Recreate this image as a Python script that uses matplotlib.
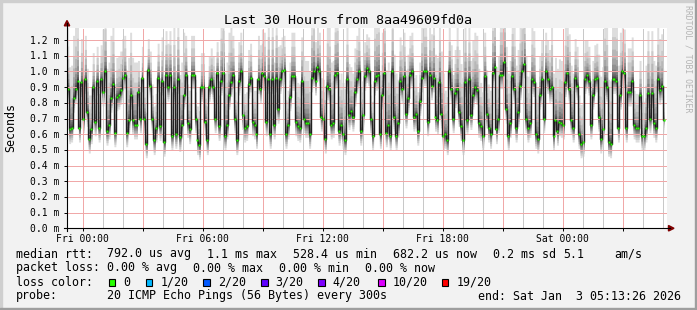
import numpy as np
import pandas as pd
import matplotlib
matplotlib.use("Agg")
import matplotlib.pyplot as plt
import matplotlib.dates as mdates
import matplotlib.transforms as mtransforms
from matplotlib.lines import Line2D
from matplotlib.patches import Rectangle, Polygon
from datetime import datetime, timedelta

# median rtt in ms from left to right
median_ms = [
    0.89, 0.63, 0.64, 0.83, 0.89, 0.94, 0.64, 0.93, 0.70, 0.95, 0.74, 0.57, 0.63, 0.90, 0.68,
    0.94, 0.64, 0.95, 0.87, 1.00, 0.62, 0.66, 0.83, 0.92, 0.61, 0.84, 0.85, 0.88, 0.96, 0.98,
    0.61, 0.69, 0.85, 0.69, 0.66, 0.66, 0.87, 0.70, 0.96, 0.70, 0.54, 1.01, 0.91, 0.70, 0.56,
    0.64, 0.96, 0.65, 0.94, 0.55, 0.98, 0.90, 0.98, 0.59, 0.90, 0.60, 0.95, 0.58, 0.66,
    0.85, 0.98, 0.67, 0.63, 0.98, 0.98, 0.70, 0.56, 0.53, 0.90, 0.90, 0.68, 0.56, 0.90, 0.95,
    0.90, 0.70, 0.99, 0.65, 0.94, 0.99, 0.59, 0.66, 0.85, 0.93, 0.98, 0.70, 0.56, 0.94, 1.00,
    0.72, 0.64, 0.65, 0.92, 0.96, 0.68, 0.66, 0.60, 0.95, 0.89, 0.99, 0.97, 0.68, 0.95, 0.60,
    0.95, 0.66, 0.96, 0.76, 0.95, 1.00, 1.01, 0.60, 0.66, 0.84, 0.97, 0.97, 0.68, 0.65, 0.64,
    0.94, 0.70, 0.67,
    0.67, 0.60, 0.96, 1.00, 0.94, 1.03, 1.00, 0.71, 0.70, 0.57, 0.91, 0.89, 0.66, 0.67, 0.98,
    0.99, 0.62, 0.66, 0.60, 0.56, 0.95, 0.72, 0.75, 0.71, 0.87, 0.95, 1.00, 0.62, 0.72, 0.97,
    1.02, 1.00, 0.70, 0.59, 0.94, 0.97, 0.98, 0.60, 0.85, 0.99, 0.61, 0.66, 0.59, 1.00, 0.71,
    0.59, 0.67, 0.94, 0.89, 0.97, 0.73, 0.83, 0.98, 1.00, 0.71, 0.73, 0.62, 0.81, 0.96, 1.00,
    1.00, 0.68, 0.98, 0.91, 0.96, 0.71, 0.69, 0.93, 0.73, 0.59, 0.60, 0.56, 1.00, 0.89, 0.70,
    0.86, 0.89, 0.74, 0.65, 0.56, 0.93, 0.69, 0.95, 0.72, 0.85, 0.90, 0.88, 0.67, 0.65, 0.59,
    0.97, 0.73, 0.64, 0.60, 0.99, 1.03, 0.63, 0.70, 0.98, 0.98, 1.06, 0.76, 0.59, 0.67, 0.97,
    0.89, 0.64, 0.74, 0.91, 1.00, 1.05, 0.70, 0.64, 0.67, 0.95, 0.93, 0.60, 0.57, 0.85, 0.95,
    0.70,
    1.00, 0.95, 0.89, 0.90, 0.59, 0.69, 0.62, 0.68, 0.67, 0.66, 0.93, 0.99, 0.89, 0.69, 0.64,
    0.96, 0.91, 0.60, 0.54, 0.55, 0.95, 0.98, 0.94, 0.66, 0.85, 0.95, 0.96, 0.71, 0.57, 0.63,
    0.94, 0.90, 0.55, 0.54, 0.95, 0.95, 0.94, 0.64, 0.85, 1.00, 0.99, 0.64, 0.87, 0.87, 0.94,
    0.66, 0.64, 0.64, 0.85, 0.59, 0.59, 0.64, 0.86, 0.70, 0.86, 0.67, 0.64, 0.95, 0.88, 0.91,
    0.69,
]

# how far the slowest ping sits above the median, per half hour block, ms
smoke_up_ms = [
    0.40, 0.28, 0.22, 0.40, 0.25, 0.40, 0.20, 0.22, 0.28, 0.40,
    0.25, 0.22, 0.20, 0.40, 0.25, 0.22, 0.28, 0.40, 0.22, 0.28,
    0.40, 0.25, 0.40, 0.33, 0.28, 0.22, 0.40, 0.40, 0.28, 0.25,
    0.33, 0.40, 0.28, 0.40, 0.35, 0.28, 0.40, 0.40, 0.40, 0.33,
    0.25, 0.40, 0.35, 0.25, 0.22, 0.40, 0.40, 0.28, 0.22, 0.40,
    0.33, 0.40, 0.25, 0.40, 0.35, 0.28, 0.22, 0.40, 0.28, 0.25,
]
smoke_low_ms = 0.09  # fastest ping sits about this far under the median

# smoke bands, outermost first (smokeping greys)
band_grey = ["#dddddd", "#cacaca", "#b7b7b7", "#a4a4a4", "#919191",
             "#7e7e7e", "#6b6b6b", "#585858", "#454545", "#323232"]
band_up = [1.0, 0.68, 0.48, 0.34, 0.24, 0.16, 0.10, 0.065, 0.04, 0.018]
band_down = [1.0, 0.82, 0.66, 0.52, 0.40, 0.30, 0.21, 0.13, 0.07, 0.03]

t_start = datetime(2026, 1, 1, 23, 13, 26)
t_end = datetime(2026, 1, 3, 5, 13, 26)

ytick_vals = [round(0.1 * i, 1) for i in range(13)]

loss_labels = ["0", "1/20", "2/20", "3/20", "4/20", "10/20", "19/20"]
loss_colors = ["#26ff00", "#00b8ff", "#0059ff", "#5e00ff", "#7e00ff", "#dd00ff", "#ff0000"]
loss_box_x = [108.7, 145.7, 203.3, 261.0, 318.3, 378.3, 441.7]

W, H = 697, 310
MONO = ["DejaVu Sans Mono"]

fig = plt.figure(figsize=(W / 100, H / 100), dpi=100)
fig.patch.set_facecolor("#f2f2f2")

def fx(px):
    return px / W

def fy(py):
    return 1 - py / H

ax = fig.add_axes([fx(67), fy(228.3), 600 / W, 200.3 / H])
ax.set_facecolor("white")
for s in ax.spines.values():
    s.set_visible(False)

x0 = mdates.date2num(t_start)
x1 = mdates.date2num(t_end)
ax.set_xlim(x0, x1)
ax.set_ylim(0, 1.277)

n = len(median_ms)
times = pd.date_range(t_start + timedelta(minutes=2), t_end - timedelta(minutes=10), periods=n)
xs = mdates.date2num(times.to_pydatetime())
med = np.array(median_ms)
rep = int(np.ceil(n / len(smoke_up_ms)))
up_ms = np.repeat(smoke_up_ms, rep)[:n]

for grey, up, dn in zip(band_grey, band_up, band_down):
    hi = med + up_ms * up
    lo = med - smoke_low_ms * dn
    ax.fill_between(xs, lo, hi, step="mid", color=grey, lw=0, zorder=1)

# grid, 1px dotted like rrdtool
dotted = (0, (1, 1))
for h in pd.date_range(t_start.replace(minute=0, second=0) + timedelta(hours=1), t_end, freq="h"):
    c = "#f0a8a8" if h.hour % 3 == 0 else "#c8c8c8"
    ax.axvline(mdates.date2num(h.to_pydatetime()), color=c, lw=0.72, ls=dotted,
               antialiased=False, zorder=2)
for v in ytick_vals[1:]:
    ax.axhline(v, color="#f0a8a8", lw=0.72, ls=dotted, antialiased=False, zorder=2)

ax.plot(xs, med, color="#202020", lw=1.0, drawstyle="steps-mid", zorder=3)
ax.plot(xs, med, ls="none", marker="s", ms=1.8, mec="none", mfc="#26ff00", zorder=4)

# ticks
major = pd.date_range(datetime(2026, 1, 2, 0, 0), t_end, freq="3h")
ax.set_xticks(mdates.date2num(major.to_pydatetime()))
ax.set_xticklabels([])
ax.set_yticks(ytick_vals)
ax.set_yticklabels([])
ax.tick_params(length=2, width=0.7, direction="out", color="black")

xlab_tr = mtransforms.blended_transform_factory(ax.transData, fig.transFigure)
for t in pd.date_range(datetime(2026, 1, 2, 0, 0), t_end, freq="6h"):
    ax.text(mdates.date2num(t.to_pydatetime()), fy(241.5), t.strftime("%a %H:%M"),
            transform=xlab_tr, ha="center", va="baseline", size=7, family=MONO)

ylab_tr = mtransforms.offset_copy(
    mtransforms.blended_transform_factory(fig.transFigure, ax.transData),
    fig=fig, x=0, y=-3.5, units="dots")
for v in ytick_vals:
    ax.text(fx(59.8), v, "%.1f m" % v, transform=ylab_tr, ha="right", va="baseline",
            size=7, family=MONO)

# axes with arrows
fig.add_artist(Line2D([fx(67), fx(67)], [fy(231), fy(23)], color="black", lw=0.8))
fig.add_artist(Line2D([fx(64), fx(670)], [fy(228.3), fy(228.3)], color="black", lw=0.8))
fig.add_artist(Polygon([(fx(64.3), fy(25.8)), (fx(69.7), fy(25.8)), (fx(67), fy(20.5))],
                       closed=True, color="#7f0000", transform=fig.transFigure))
fig.add_artist(Polygon([(fx(668.5), fy(225.5)), (fx(668.5), fy(231)), (fx(674), fy(228.3))],
                       closed=True, color="#7f0000", transform=fig.transFigure))

# titles
fig.text(fx(348.5), fy(24), "Last 30 Hours from 8aa49609fd0a", ha="center", va="baseline",
         size=9.6, family=MONO)
fig.text(fx(11), fy(128), "Seconds", rotation=90, ha="center", va="center",
         size=8.4, family=MONO)
fig.text(fx(688), fy(5), "RRDTOOL / TOBI OETIKER", rotation=270, ha="center", va="top",
         size=5.9, family=MONO, color="#b4b4b4")

# legend
leg = 8.4
line1 = [(16, "median rtt:"), (107.3, "792.0 us avg"), (207.3, "1.1 ms max"),
         (293.3, "528.4 us min"), (393.3, "682.2 us now"), (493.3, "0.2 ms sd"),
         (563.3, "5.1"), (614.3, "am/s")]
line2 = [(16, "packet loss:"), (107.3, "0.00 % avg"), (193.3, "0.00 % max"),
         (279.3, "0.00 % min"), (365.0, "0.00 % now")]
line4 = [(16, "probe:"), (107.3, "20 ICMP Echo Pings (56 Bytes) every 300s"),
         (478.3, "end: Sat Jan  3 05:13:26 2026")]
for y, items in [(257.5, line1), (271.5, line2), (299.5, line4)]:
    for x, s in items:
        fig.text(fx(x), fy(y), s, ha="left", va="baseline", size=leg, family=MONO)

fig.text(fx(16), fy(285.5), "loss color:", ha="left", va="baseline", size=leg, family=MONO)
for bx, lab, col in zip(loss_box_x, loss_labels, loss_colors):
    fig.add_artist(Rectangle((fx(bx), fy(286)), 6.6 / W, 6.8 / H, facecolor=col,
                             edgecolor="black", lw=0.8, transform=fig.transFigure))
    fig.text(fx(bx + 14.6), fy(285.5), lab, ha="left", va="baseline", size=leg, family=MONO)

# 3d frame
fig.add_artist(Rectangle((0, 1 - 2 / H), 1, 2 / H, color="#cfcfcf", transform=fig.transFigure))
fig.add_artist(Rectangle((0, 0), 2 / W, 1, color="#cfcfcf", transform=fig.transFigure))
fig.add_artist(Rectangle((0, 0), 1, 2 / H, color="#9e9e9e", transform=fig.transFigure))
fig.add_artist(Rectangle((1 - 2 / W, 0), 2 / W, 1, color="#9e9e9e", transform=fig.transFigure))

fig.savefig("out.png", dpi=100, facecolor=fig.get_facecolor())
